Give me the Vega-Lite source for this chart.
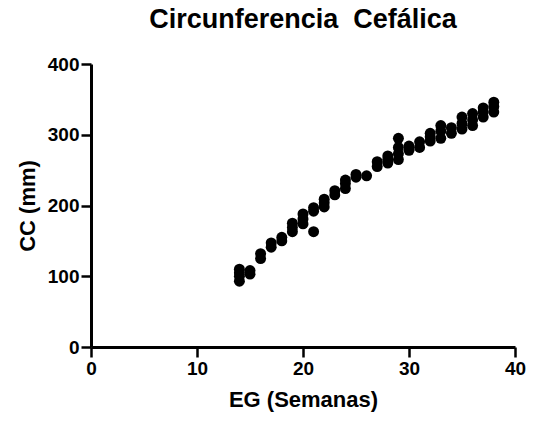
{
  "$schema": "https://vega.github.io/schema/vega-lite/v6.json",
  "width": 424,
  "height": 283,
  "autosize": {"type": "none"},
  "padding": {"left": 91, "top": 64, "right": 19, "bottom": 74},
  "background": "white",
  "title": {
    "text": "Circunferencia\u00a0\u00a0Cefálica",
    "font": "Liberation Sans",
    "fontSize": 27,
    "fontWeight": "bold",
    "color": "black",
    "anchor": "middle",
    "frame": "group",
    "offset": 21
  },
  "config": {
    "view": {"stroke": null},
    "axis": {
      "grid": false,
      "domainColor": "black",
      "domainWidth": 3,
      "tickColor": "black",
      "tickWidth": 2.5,
      "tickSize": 10,
      "labelFlush": false,
      "labelFont": "Liberation Sans",
      "labelFontSize": 19,
      "labelFontWeight": "bold",
      "labelColor": "black",
      "labelPadding": 2,
      "titleFont": "Liberation Sans",
      "titleFontSize": 22,
      "titleFontWeight": "bold",
      "titleColor": "black"
    }
  },
  "data": {
    "values": [
      {"EG": 14, "CC": 93}, {"EG": 14, "CC": 100}, {"EG": 14, "CC": 105}, {"EG": 14, "CC": 110},
      {"EG": 15, "CC": 103}, {"EG": 15, "CC": 108},
      {"EG": 16, "CC": 125}, {"EG": 16, "CC": 132},
      {"EG": 17, "CC": 141}, {"EG": 17, "CC": 147},
      {"EG": 18, "CC": 150}, {"EG": 18, "CC": 155},
      {"EG": 19, "CC": 163}, {"EG": 19, "CC": 169}, {"EG": 19, "CC": 175},
      {"EG": 20, "CC": 174}, {"EG": 20, "CC": 181}, {"EG": 20, "CC": 188},
      {"EG": 21, "CC": 163}, {"EG": 21, "CC": 192}, {"EG": 21, "CC": 197},
      {"EG": 22, "CC": 198}, {"EG": 22, "CC": 204}, {"EG": 22, "CC": 209},
      {"EG": 23, "CC": 215}, {"EG": 23, "CC": 221},
      {"EG": 24, "CC": 224}, {"EG": 24, "CC": 231}, {"EG": 24, "CC": 236},
      {"EG": 25, "CC": 240}, {"EG": 25, "CC": 244},
      {"EG": 26, "CC": 242},
      {"EG": 27, "CC": 255}, {"EG": 27, "CC": 262},
      {"EG": 28, "CC": 260}, {"EG": 28, "CC": 265}, {"EG": 28, "CC": 270},
      {"EG": 29, "CC": 265}, {"EG": 29, "CC": 273}, {"EG": 29, "CC": 282}, {"EG": 29, "CC": 295},
      {"EG": 30, "CC": 278}, {"EG": 30, "CC": 284},
      {"EG": 31, "CC": 282}, {"EG": 31, "CC": 290},
      {"EG": 32, "CC": 291}, {"EG": 32, "CC": 297}, {"EG": 32, "CC": 302},
      {"EG": 33, "CC": 295}, {"EG": 33, "CC": 305}, {"EG": 33, "CC": 313},
      {"EG": 34, "CC": 302}, {"EG": 34, "CC": 310},
      {"EG": 35, "CC": 308}, {"EG": 35, "CC": 316}, {"EG": 35, "CC": 325},
      {"EG": 36, "CC": 313}, {"EG": 36, "CC": 321}, {"EG": 36, "CC": 330},
      {"EG": 37, "CC": 325}, {"EG": 37, "CC": 332}, {"EG": 37, "CC": 338},
      {"EG": 38, "CC": 332}, {"EG": 38, "CC": 340}, {"EG": 38, "CC": 346}
    ]
  },
  "mark": {"type": "circle", "size": 120, "color": "black", "opacity": 1},
  "encoding": {
    "x": {
      "field": "EG",
      "type": "quantitative",
      "scale": {"domain": [0, 40], "nice": false},
      "axis": {"values": [0, 10, 20, 30, 40], "title": "EG (Semanas)", "titlePadding": 11}
    },
    "y": {
      "field": "CC",
      "type": "quantitative",
      "scale": {"domain": [0, 400], "nice": false},
      "axis": {"values": [0, 100, 200, 300, 400], "title": "CC (mm)", "titlePadding": 8}
    }
  }
}
